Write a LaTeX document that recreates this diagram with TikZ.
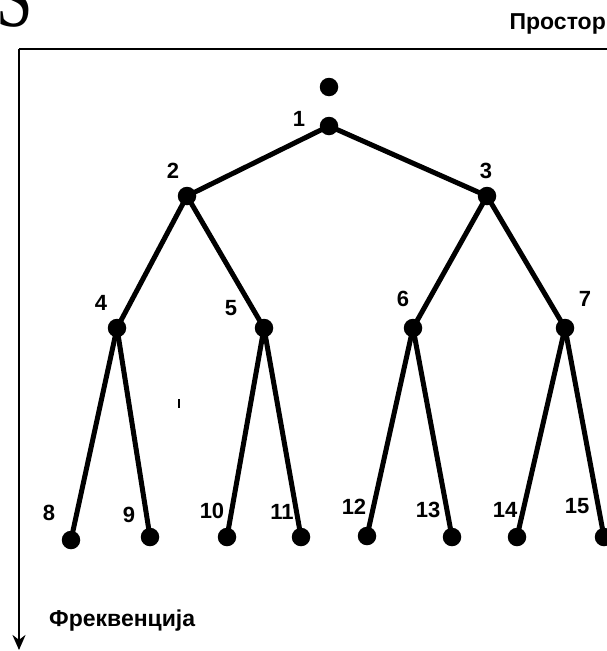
\documentclass[tikz,border=0pt]{standalone}
\usepackage{fontspec}
\setmainfont{Liberation Sans}
\newfontfamily\serifletter{Liberation Serif}
\usetikzlibrary{arrows.meta}
\begin{document}
\begin{tikzpicture}[x=1pt,y=-1pt,
  dot/.style={circle,fill=black,inner sep=0pt,minimum size=18.5pt},
  edge/.style={line width=5pt},
  num/.style={font=\fontsize{22}{22}\selectfont\bfseries,inner sep=0pt},
  axislabel/.style={font=\fontsize{23}{23}\selectfont\bfseries,inner sep=0pt}]
\useasboundingbox (0,0) rectangle (607,651);
% large letter at the top-left corner
\node[anchor=base west,inner sep=0pt,xscale=0.78,font=\serifletter\fontsize{84}{84}\selectfont] (sym) at (-4,26.5) {S};
% axes
\coordinate (origin) at (19,49);
\coordinate (xend) at (607,49);
\coordinate (yend) at (19,650);
\draw[line width=2.8pt] (xend) -- (origin);
\draw[line width=2.8pt,-{Stealth[length=15pt,width=13pt]}] (origin) -- (yend);
\node[axislabel,anchor=east] (xlab) at (606,24) {Простор};
\node[axislabel,anchor=west] (ylab) at (49,621) {Фреквенција};
% tree nodes
\node[dot] (n0) at (329,87) {};
\node[dot] (n1) at (329,126) {};
\node[dot] (n2) at (187,196) {};
\node[dot] (n3) at (487,196) {};
\node[dot] (n4) at (117,328) {};
\node[dot] (n5) at (264,328) {};
\node[dot] (n6) at (413,328) {};
\node[dot] (n7) at (565,328) {};
\node[dot] (n8) at (71,540) {};
\node[dot] (n9) at (150,537) {};
\node[dot] (n10) at (227,537) {};
\node[dot] (n11) at (301,537) {};
\node[dot] (n12) at (367,536) {};
\node[dot] (n13) at (452,537) {};
\node[dot] (n14) at (517,537) {};
\node[dot] (n15) at (604,537) {};
% edges
\draw[edge] (n1.center) -- (n2.center);
\draw[edge] (n1.center) -- (n3.center);
\draw[edge] (n2.center) -- (n4.center);
\draw[edge] (n2.center) -- (n5.center);
\draw[edge] (n3.center) -- (n6.center);
\draw[edge] (n3.center) -- (n7.center);
\draw[edge] (n4.center) -- (n8.center);
\draw[edge] (n4.center) -- (n9.center);
\draw[edge] (n5.center) -- (n10.center);
\draw[edge] (n5.center) -- (n11.center);
\draw[edge] (n6.center) -- (n12.center);
\draw[edge] (n6.center) -- (n13.center);
\draw[edge] (n7.center) -- (n14.center);
\draw[edge] (n7.center) -- (n15.center);
% labels
\node[num] (l1) at (299,119) {1};
\node[num] (l2) at (173,171) {2};
\node[num] (l3) at (486,171) {3};
\node[num] (l4) at (101,303) {4};
\node[num] (l5) at (231,308) {5};
\node[num] (l6) at (403,299) {6};
\node[num] (l7) at (585,299) {7};
\node[num] (l8) at (49,513) {8};
\node[num] (l9) at (129,515) {9};
\node[num] (l10) at (212,511) {10};
\node[num] (l11) at (282,512) {11};
\node[num] (l12) at (354,507) {12};
\node[num] (l13) at (428,510) {13};
\node[num] (l14) at (505,510) {14};
\node[num] (l15) at (577,506) {15};
% small tick mark
\coordinate (ta) at (179,399);
\coordinate (tb) at (179,408);
\draw[line width=1.5pt] (ta) -- (tb);
\end{tikzpicture}
\end{document}
